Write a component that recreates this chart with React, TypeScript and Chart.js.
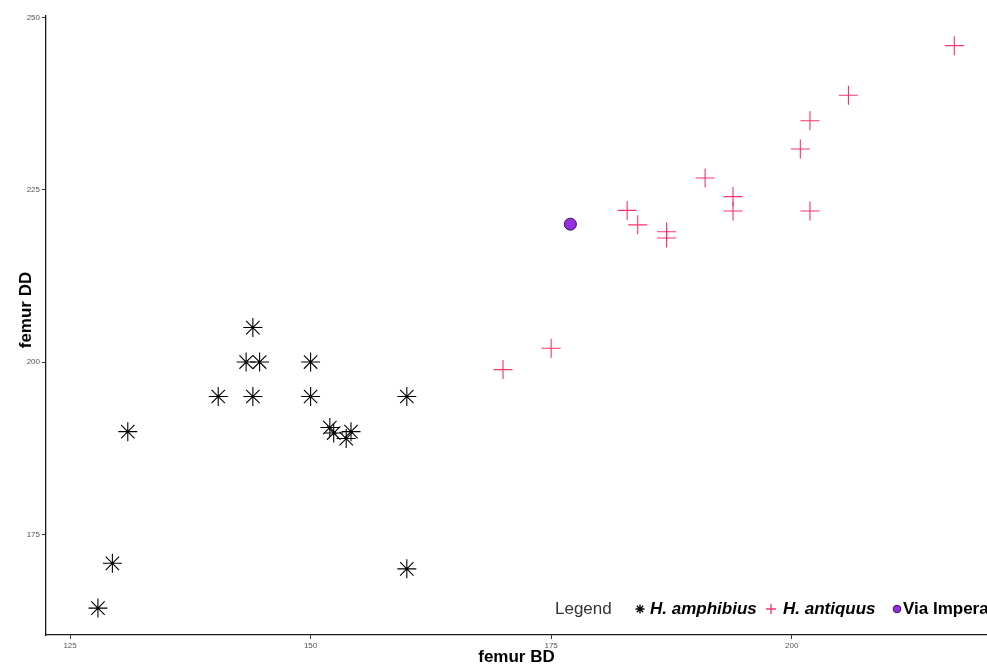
import React, { useEffect, useRef } from "react";
import { Chart, registerables } from "chart.js";

Chart.register(...registerables);

// ---- data (femur BD on x, femur DD on y) ----
const amphibiusBD = [127.9, 129.4, 131.0, 140.4, 144.0, 143.3, 144.7, 144.0, 150.0, 150.0, 152.0, 152.4, 153.7, 154.2, 160.0, 160.0];
const amphibiusDD = [164.3, 170.8, 189.9, 195.0, 205.0, 200.0, 200.0, 195.0, 200.0, 195.0, 190.5, 189.7, 188.9, 189.9, 195.0, 170.0];

const antiquusBD = [170.0, 175.0, 182.9, 184.0, 187.0, 187.0, 191.0, 193.9, 193.9, 200.9, 201.9, 201.9, 205.9, 216.9];
const antiquusDD = [198.9, 202.0, 222.0, 219.9, 218.9, 218.0, 226.7, 224.0, 221.9, 230.9, 235.0, 221.9, 238.7, 245.9];

const viaBD = [177.0];
const viaDD = [220.0];

const xTicks = [125, 150, 175, 200, 225];
const yTicks = [175, 200, 225, 250];

const seriesNames = ["H. amphibius", "H. antiquus", "Via Imperatore"];
const legendTitle = "Legend";
const xTitle = "femur BD";
const yTitle = "femur DD";

const toPoints = (xs: number[], ys: number[]) => xs.map((x, i) => ({ x, y: ys[i] }));

const FONT = '"Liberation Sans", Arial, Helvetica, sans-serif';
const BLACK = "#000000";
const PINK = "#f7346a";
const PURPLE = "#9430e0";
const PURPLE_BORDER = "#3b0c5c";

const legendPlugin = {
  id: "inlineLegend",
  afterDraw(chart: any) {
    const ctx = chart.ctx as CanvasRenderingContext2D;
    const y = 609;
    ctx.save();

    // y axis title
    ctx.save();
    ctx.translate(26, 310);
    ctx.rotate(-Math.PI / 2);
    ctx.textAlign = "center";
    ctx.textBaseline = "middle";
    ctx.fillStyle = BLACK;
    ctx.font = `bold 17px ${FONT}`;
    ctx.fillText(yTitle, 0, 0);
    ctx.restore();

    ctx.textBaseline = "middle";
    ctx.textAlign = "left";
    ctx.font = `17px ${FONT}`;
    ctx.fillStyle = "#333333";
    ctx.fillText(legendTitle, 555, y);

    const drawStar = (cx: number, cy: number, r: number, color: string) => {
      ctx.strokeStyle = color;
      ctx.lineWidth = 1.3;
      ctx.beginPath();
      for (let k = 0; k < 4; k++) {
        const a = (k * Math.PI) / 4;
        ctx.moveTo(cx - Math.cos(a) * r, cy - Math.sin(a) * r);
        ctx.lineTo(cx + Math.cos(a) * r, cy + Math.sin(a) * r);
      }
      ctx.stroke();
    };
    const drawPlus = (cx: number, cy: number, r: number, color: string) => {
      ctx.strokeStyle = color;
      ctx.lineWidth = 1.3;
      ctx.beginPath();
      ctx.moveTo(cx - r, cy);
      ctx.lineTo(cx + r, cy);
      ctx.moveTo(cx, cy - r);
      ctx.lineTo(cx, cy + r);
      ctx.stroke();
    };
    const drawDot = (cx: number, cy: number, r: number) => {
      ctx.fillStyle = PURPLE;
      ctx.strokeStyle = PURPLE_BORDER;
      ctx.lineWidth = 1;
      ctx.beginPath();
      ctx.arc(cx, cy, r, 0, Math.PI * 2);
      ctx.fill();
      ctx.stroke();
    };

    drawStar(640, y, 4.5, BLACK);
    ctx.fillStyle = BLACK;
    ctx.font = `italic bold 17px ${FONT}`;
    ctx.fillText(seriesNames[0], 650, y);

    drawPlus(771, y, 5, PINK);
    ctx.fillStyle = BLACK;
    ctx.font = `italic bold 17px ${FONT}`;
    ctx.fillText(seriesNames[1], 783, y);

    drawDot(897, y, 3.8);
    ctx.fillStyle = BLACK;
    ctx.font = `bold 17px ${FONT}`;
    ctx.fillText(seriesNames[2], 903, y);
    ctx.restore();
  },
};

const bgPlugin = {
  id: "whiteBg",
  beforeDraw(chart: any) {
    const ctx = chart.ctx as CanvasRenderingContext2D;
    ctx.save();
    ctx.fillStyle = "#ffffff";
    ctx.fillRect(0, 0, chart.width, chart.height);
    ctx.restore();
  },
};

export default function App() {
  const canvasRef = useRef<HTMLCanvasElement | null>(null);

  useEffect(() => {
    if (!canvasRef.current) return;
    const chart = new Chart(canvasRef.current, {
      type: "scatter",
      data: {
        datasets: [
          {
            label: seriesNames[0],
            data: toPoints(amphibiusBD, amphibiusDD),
            pointStyle: "star",
            pointRadius: 9.5,
            borderColor: BLACK,
            backgroundColor: BLACK,
            borderWidth: 1.1,
          },
          {
            label: seriesNames[1],
            data: toPoints(antiquusBD, antiquusDD),
            pointStyle: "cross",
            pointRadius: 9.5,
            borderColor: PINK,
            backgroundColor: PINK,
            borderWidth: 1.1,
          },
          {
            label: seriesNames[2],
            data: toPoints(viaBD, viaDD),
            pointStyle: "circle",
            pointRadius: 6,
            borderColor: PURPLE_BORDER,
            backgroundColor: PURPLE,
            borderWidth: 1,
          },
        ],
      },
      options: {
        animation: false,
        responsive: true,
        maintainAspectRatio: false,
        layout: { autoPadding: false, padding: { left: 0, right: 0, top: 16, bottom: 0 } },
        plugins: {
          legend: { display: false },
          tooltip: { enabled: false },
        },
        scales: {
          x: {
            type: "linear",
            min: 122.5,
            max: 220.3,
            afterBuildTicks: (scale: any) => {
              scale.ticks = xTicks
                .filter((v) => v >= scale.min && v <= scale.max)
                .map((v) => ({ value: v }));
            },
            afterFit: (scale: any) => {
              scale.height = 31;
            },
            grid: {
              display: true,
              drawOnChartArea: false,
              drawTicks: true,
              tickLength: 4,
              tickColor: "#333333",
              tickWidth: 1,
            },
            border: { display: true, color: "#1a1a1a", width: 1.3 },
            ticks: {
              padding: 2,
              color: "#555555",
              font: { family: FONT, size: 8 },
            },
            title: {
              display: true,
              text: xTitle,
              color: BLACK,
              align: "start",
              font: { family: FONT, size: 17, weight: "bold", lineHeight: 1 },
              padding: { top: 0, bottom: 0 },
            },
          },
          y: {
            type: "linear",
            min: 160.4,
            max: 250.2,
            afterBuildTicks: (scale: any) => {
              scale.ticks = yTicks
                .filter((v) => v >= scale.min && v <= scale.max)
                .map((v) => ({ value: v }));
            },
            afterFit: (scale: any) => {
              scale.width = 46;
            },
            grid: {
              display: true,
              drawOnChartArea: false,
              drawTicks: true,
              tickLength: 4,
              tickColor: "#333333",
              tickWidth: 1,
            },
            border: { display: true, color: "#1a1a1a", width: 1.3 },
            ticks: {
              padding: 2,
              color: "#555555",
              font: { family: FONT, size: 8 },
            },
            title: { display: false },
          },
        },
      } as any,
      plugins: [bgPlugin, legendPlugin],
    });
    // center the x title on the 46..984 panel of the reference
    const xs: any = chart.scales.x;
    xs.options.title.align = "center";
    chart.update("none");
    return () => chart.destroy();
  }, []);

  return (
    <div
      style={{
        position: "fixed",
        left: 0,
        top: 0,
        width: 987,
        height: 666,
        overflow: "hidden",
        background: "#ffffff",
      }}
    >
      <canvas ref={canvasRef} />
    </div>
  );
}
